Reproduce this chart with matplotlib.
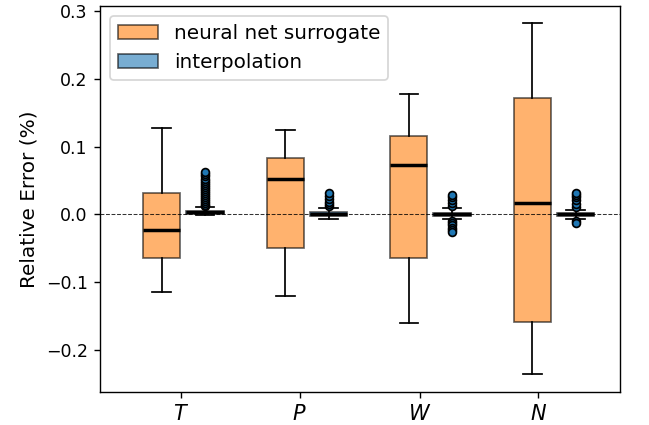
import matplotlib
matplotlib.use("Agg")
import matplotlib.pyplot as plt
from matplotlib.patches import Patch

categories = ["$T$", "$P$", "$W$", "$N$"]

# neural net surrogate summary stats
nn_med = [-0.023, 0.0525, 0.073, 0.0166]
nn_q1 = [-0.0647, -0.050, -0.064, -0.158]
nn_q3 = [0.032, 0.083, 0.116, 0.1716]
nn_lo = [-0.114, -0.120, -0.160, -0.236]
nn_hi = [0.127, 0.124, 0.1775, 0.282]

# interpolation summary stats
ip_med = [0.003, 0.001, 0.0, 0.001]
ip_q1 = [0.0, -0.0025, -0.0025, -0.002]
ip_q3 = [0.005, 0.0034, 0.0015, 0.002]
ip_lo = [-0.001, -0.0063, -0.0063, -0.0063]
ip_hi = [0.0107, 0.0093, 0.0093, 0.007]
ip_fliers_T = [0.012, 0.014, 0.017, 0.020, 0.023, 0.026, 0.029, 0.032, 0.035,
               0.038, 0.041, 0.044, 0.047, 0.050, 0.053, 0.056, 0.059, 0.062]
ip_fliers_P = [0.012, 0.015, 0.019, 0.023, 0.027, 0.031]
ip_fliers_W = [0.013, 0.017, 0.021, 0.025, 0.028,
               -0.010, -0.013, -0.016, -0.020, -0.023, -0.026]
ip_fliers_N = [0.011, 0.016, 0.021, 0.025, 0.029, 0.032, -0.009, -0.012]
ip_fliers = [ip_fliers_T, ip_fliers_P, ip_fliers_W, ip_fliers_N]

series_labels = ["neural net surrogate", "interpolation"]

DPI = 125
fig = plt.figure(figsize=(649 / DPI, 425 / DPI), dpi=DPI)
ax = fig.add_axes([100 / 649, 1 - 392 / 425, 520 / 649, (392 - 5.7) / 425])

nn_stats = [dict(med=m, q1=a, q3=b, whislo=l, whishi=h, fliers=[])
            for m, a, b, l, h in zip(nn_med, nn_q1, nn_q3, nn_lo, nn_hi)]
ip_stats = [dict(med=m, q1=a, q3=b, whislo=l, whishi=h, fliers=f)
            for m, a, b, l, h, f in zip(ip_med, ip_q1, ip_q3, ip_lo, ip_hi, ip_fliers)]

pos_nn = [1, 2, 3, 4]
pos_ip = [p + 0.35 for p in pos_nn]
medprops = dict(color="black", linewidth=2)
flierprops = dict(marker="o", markerfacecolor="tab:blue", markeredgecolor="black",
                  markersize=4.5, markeredgewidth=1)

b1 = ax.bxp(nn_stats, positions=pos_nn, widths=0.3, patch_artist=True,
            medianprops=medprops, manage_ticks=False)
b2 = ax.bxp(ip_stats, positions=pos_ip, widths=0.3, patch_artist=True,
            medianprops=medprops, flierprops=flierprops, manage_ticks=False)
for b in b1["boxes"]:
    b.set_facecolor("tab:orange")
    b.set_edgecolor("black")
    b.set_alpha(0.6)
for b in b2["boxes"]:
    b.set_facecolor("tab:blue")
    b.set_edgecolor("black")
    b.set_alpha(0.6)

ax.axhline(0, color="black", linestyle="--", linewidth=0.6, alpha=0.8)

ax.set_xlim(0.5, 4.71)
ax.set_xticks([1.154, 2.117, 3.087, 4.05])
ax.set_xticklabels(categories, fontsize=12)
ax.set_yticks([-0.2, -0.1, 0.0, 0.1, 0.2, 0.3])
ax.tick_params(axis="y", labelsize=10)
ax.set_ylabel("Relative Error (%)", fontsize=11.5)

handles = [Patch(facecolor="tab:orange", edgecolor="black", alpha=0.6),
           Patch(facecolor="tab:blue", edgecolor="black", alpha=0.6)]
ax.legend(handles, series_labels, loc="upper left", fontsize=11.5)

fig.savefig("out.png", dpi=DPI)
